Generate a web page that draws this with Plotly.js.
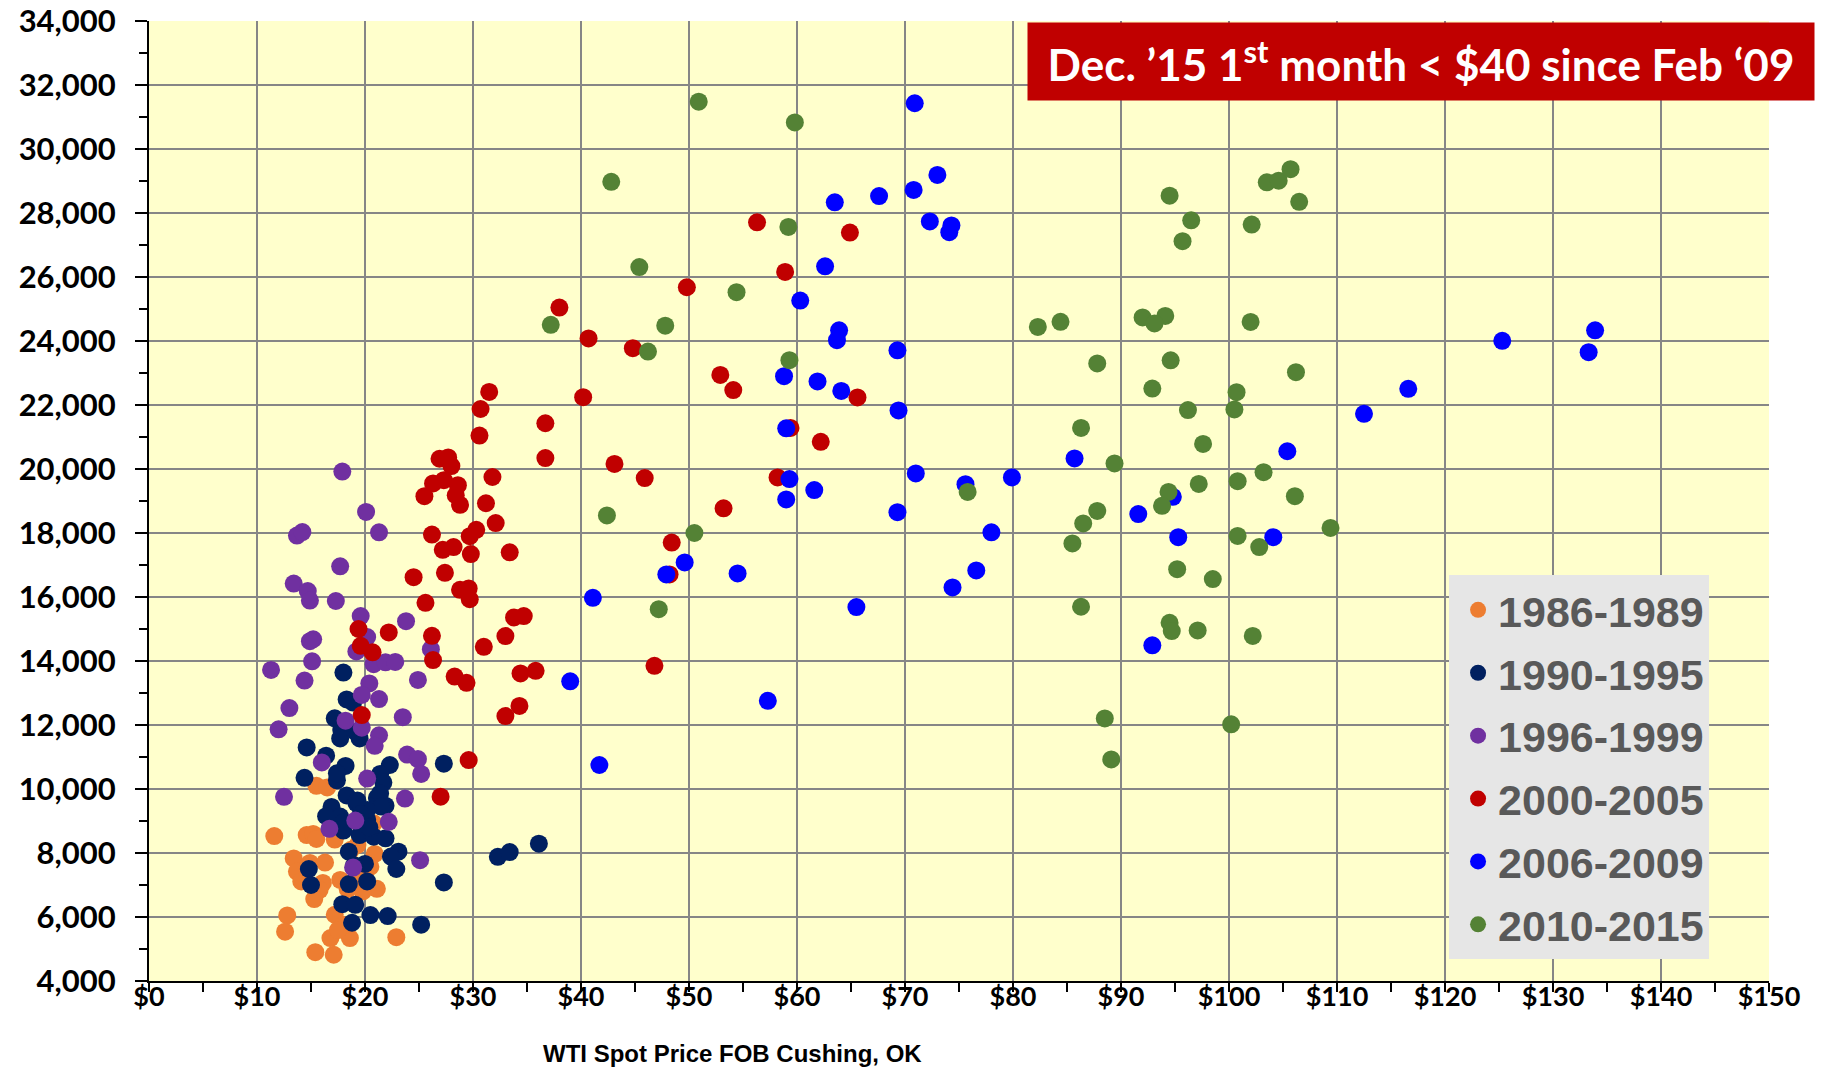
<!DOCTYPE html>
<html>
<head>
<meta charset="utf-8">
<script src="https://cdn.plot.ly/plotly-3.0.1.min.js"></script>
<style>
  html, body { margin: 0; padding: 0; background: #ffffff; }
  #chart { width: 1821px; height: 1067px; }
</style>
</head>
<body>
<div id="chart"></div>
<script>
// ---- Data (WTI spot price, $/bbl  vs  value) ----
const seriesNames = ['1986-1989', '1990-1995', '1996-1999', '2000-2005', '2006-2009', '2010-2015'];
const seriesColors = ['#ED7D31', '#002060', '#7030A0', '#C00000', '#0000FF', '#548235'];

const price_1986_1989 = [15.5,16.5,11.6,14.6,15.2,15.5,17.2,13.4,13.7,14.9,16.3,14.1,16.1,15.8,15.3,17.7,18.4,21.1,19.8,19.3,20.9,12.8,12.6,17.2,16.8,18.6,15.4,17.1,18.0,17.5,22.9,20.5,20.8,18.7,19.6];
const value_1986_1989 = [10100,10050,8530,8560,8595,8440,8420,7830,7420,7690,7700,7110,7065,6850,6560,7160,6870,6880,6800,8250,7970,6050,5540,6070,5340,5340,4900,4820,5750,5590,5370,7570,8930,8100,7300];

const price_1990_1995 = [18.0,18.3,17.2,17.8,17.7,19.5,19.1,18.9,14.6,16.4,27.3,18.2,14.4,17.4,22.3,21.4,21.7,21.1,21.9,18.3,16.9,19.2,16.4,17.7,20.2,18.0,19.5,20.8,21.9,21.4,21.5,20.2,17.4,19.3,19.6,20.4,18.0,18.5,23.1,22.4,22.9,20.0,20.2,18.5,14.8,15.0,19.0,27.3,17.9,19.1,18.8,20.5,22.1,25.2,32.3,33.4,36.1];
const value_1990_1995 = [13640,12800,12210,11840,11580,11580,11790,12700,11300,11040,10790,10720,10350,10270,10750,10470,10200,9720,9480,9800,9440,9560,9150,9140,9040,8700,8560,8510,8460,9860,9450,9340,10490,9640,9220,8800,8960,8040,8040,7890,7500,7660,7110,7030,7500,7000,7620,7080,6400,6380,5820,6060,6030,5760,7880,8030,8290];

const price_1996_1999 = [17.9,20.1,21.3,13.7,14.2,17.7,13.4,14.7,14.9,17.3,19.6,23.8,20.2,15.2,14.9,19.2,26.1,20.8,21.9,22.8,11.3,15.1,14.4,24.9,20.4,21.3,19.7,13.0,23.5,18.2,19.7,12.0,21.3,20.9,23.9,24.9,16.0,25.2,20.2,12.5,23.7,19.1,22.2,16.7,25.1,18.9];
const value_1996_1999 = [19920,18660,18020,17920,18030,16960,16420,16185,15890,15875,15405,15245,14750,14680,14620,14300,14370,13900,13960,13970,13720,13990,13390,13410,13300,12810,12940,12530,12245,12135,11915,11865,11680,11350,11075,10935,10830,10470,10325,9755,9700,9015,8975,8755,7775,7545];

const price_2000_2005 = [56.3,64.9,58.9,49.8,38.0,40.7,44.8,52.9,54.1,65.6,31.5,30.7,40.2,36.7,30.6,59.4,62.2,36.7,43.1,45.9,58.2,31.8,53.2,31.2,32.1,27.7,26.9,28.0,26.3,27.3,28.6,28.4,28.8,25.5,30.3,29.7,26.2,27.2,28.2,29.8,33.4,48.4,27.4,24.5,28.8,29.6,29.7,25.6,33.8,34.7,26.2,33.0,31.0,26.3,28.3,29.4,34.4,35.8,34.3,33.0,46.8,29.6,27.0,19.4,19.6,20.7,22.2,19.7,48.2];
const value_2000_2005 = [27710,27390,26160,25680,25045,24080,23775,22940,22465,22235,22410,21875,22245,21430,21045,21285,20850,20340,20160,19715,19735,19750,18770,18930,18310,20360,20320,20090,19550,19650,19495,19180,18880,19150,18100,17900,17950,17475,17560,17340,17395,17700,16755,16620,16225,16268,15930,15818,15360,15403,14787,14778,14444,14028,13515,13319,13613,13694,12595,12278,13851,10904,9760,15000,14475,14270,14894,12310,16705];

const price_2006_2009 = [70.9,73.0,70.8,67.6,63.5,72.3,74.3,74.1,62.6,60.3,63.9,63.7,69.3,58.8,61.9,64.1,69.4,59.0,59.3,59.0,61.6,71.0,75.6,79.9,85.7,69.3,78.0,91.6,94.8,105.4,95.3,104.1,76.6,74.4,92.9,49.6,47.9,54.5,41.1,65.5,39.0,57.3,41.7,112.5,116.6,125.3,133.9,133.3];
const value_2006_2009 = [31430,29190,28720,28530,28335,27735,27610,27400,26335,25265,24335,24025,23710,22900,22735,22440,21830,21270,19685,19050,19340,19860,19525,19735,20330,18650,18020,18590,19130,20555,17870,17870,16830,16300,14490,17080,16705,16735,15975,15685,13365,12755,10750,21725,22505,24005,24335,23650];

const price_2010_2015 = [50.9,59.8,42.8,59.2,45.4,54.4,37.2,47.8,46.2,59.3,42.4,50.5,47.2,94.5,96.5,95.7,103.5,104.6,105.7,106.5,102.1,82.3,84.4,92.0,94.1,93.1,102.0,87.8,94.6,92.9,106.2,100.7,96.2,100.5,86.3,97.6,89.4,103.2,100.8,97.2,94.4,93.8,75.8,87.8,86.5,106.1,109.4,85.5,100.8,102.8,95.2,98.5,86.3,94.5,94.7,97.1,102.2,88.5,100.2,89.1];
const value_2010_2015 = [31480,30830,28975,27565,26310,25525,24505,24480,23670,23400,18550,18000,15620,28540,27770,27120,28960,29010,29370,28350,27640,24440,24600,24735,24785,24550,24595,23300,23395,22515,23025,22400,21840,21860,21285,20785,20175,19900,19620,19535,19285,18850,19285,18690,18300,19150,18160,17675,17910,17560,16870,16560,15695,15195,14935,14955,14785,12205,12020,10925];

const xTitle = 'WTI Spot Price FOB Cushing, OK';
const noteText = 'Dec. ’15 1<sup>st</sup> month &lt; $40 since Feb ‘09';

// ---- Build traces ----
const prices = [price_1986_1989, price_1990_1995, price_1996_1999, price_2000_2005, price_2006_2009, price_2010_2015];
const values = [value_1986_1989, value_1990_1995, value_1996_1999, value_2000_2005, value_2006_2009, value_2010_2015];

const traces = seriesNames.map((name, i) => ({
  type: 'scatter',
  mode: 'markers',
  name: name,
  legendgroup: 'g' + i,
  x: prices[i],
  y: values[i],
  marker: { size: 18, color: seriesColors[i], line: { width: 0 } },
  hoverinfo: 'x+y+name'
}));

const tickFontFamily = 'Lato, "Open Sans", sans-serif';

const layout = {
  width: 1821,
  height: 1067,
  margin: { l: 149, r: 52, t: 21, b: 86, pad: 0 },
  paper_bgcolor: '#ffffff',
  plot_bgcolor: '#FFFFCC',
  showlegend: true,
  xaxis: {
    range: [0, 150],
    tick0: 0,
    dtick: 10,
    tickprefix: '$',
    showgrid: true,
    gridcolor: '#868686',
    gridwidth: 1.5,
    zeroline: false,
    showline: true,
    linecolor: '#000000',
    linewidth: 2,
    ticks: 'outside',
    ticklen: 9,
    tickwidth: 2,
    tickcolor: '#000000',
    ticklabelstandoff: -18,
    tickfont: { family: tickFontFamily, size: 27, color: '#000000', weight: 'bold' },
    minor: { dtick: 5, ticks: 'outside', ticklen: 9, tickwidth: 2, tickcolor: '#000000', showgrid: false },
    fixedrange: true
  },
  yaxis: {
    range: [4000, 34000],
    tick0: 4000,
    dtick: 2000,
    tickformat: ',d',
    showgrid: true,
    gridcolor: '#868686',
    gridwidth: 1.5,
    zeroline: false,
    showline: true,
    linecolor: '#000000',
    linewidth: 2,
    ticks: 'outside',
    ticklen: 12,
    tickwidth: 2,
    tickcolor: '#000000',
    ticklabelstandoff: 13,
    tickfont: { family: tickFontFamily, size: 31, color: '#000000', weight: 'bold' },
    minor: { dtick: 1000, ticks: 'outside', ticklen: 8, tickwidth: 2, tickcolor: '#000000', showgrid: false },
    fixedrange: true
  },
  legend: {
    x: 0.8025,
    y: 0.4225,
    xanchor: 'left',
    yanchor: 'top',
    bgcolor: '#E6E6E6',
    borderwidth: 0,
    tracegroupgap: 4,
    indentation: 9,
    itemsizing: 'trace',
    font: { family: '"Liberation Sans", Arial, sans-serif', size: 43, color: '#595959', weight: 'bold' }
  },
  annotations: [
    {
      xref: 'paper', yref: 'paper',
      x: 0.7852, y: 0.9578,
      xanchor: 'center', yanchor: 'middle',
      showarrow: false,
      text: noteText,
      bgcolor: '#C00000',
      width: 780,
      height: 71,
      borderpad: 3,
      font: { family: tickFontFamily, size: 44, color: '#ffffff', weight: 'bold' }
    },
    {
      xref: 'paper', yref: 'paper',
      x: 0.3599, y: -0.075,
      xanchor: 'center', yanchor: 'middle',
      showarrow: false,
      text: xTitle,
      font: { family: '"Liberation Sans", Arial, sans-serif', size: 24, color: '#000000', weight: 'bold' }
    }
  ]
};

Plotly.newPlot('chart', traces, layout, { displayModeBar: false, staticPlot: true });
</script>
</body>
</html>
